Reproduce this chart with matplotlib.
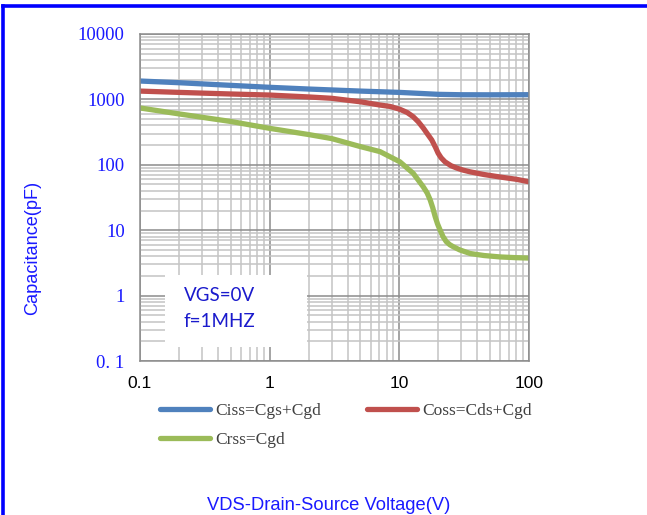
import matplotlib
matplotlib.use("Agg")
import matplotlib.pyplot as plt
from matplotlib.patches import Rectangle
from matplotlib.ticker import LogLocator, NullFormatter, FixedLocator

# Capacitance vs drain-source voltage (VGS = 0 V, f = 1 MHz)
ciss_v = [0.1, 0.2, 0.5, 1, 2, 5, 10, 15, 20, 30, 50, 100]
ciss_c = [1910, 1800, 1640, 1530, 1440, 1340, 1280, 1230, 1195, 1178, 1175, 1180]

coss_v = [0.1, 0.2, 0.5, 1, 2, 3, 5, 7.1, 8.5, 10.1, 11.5, 12.8, 14, 15.3, 16.5,
          17.8, 19, 19.9, 21, 22.5, 25, 27.8, 31, 35.2, 45, 60, 80, 100]
coss_c = [1340, 1280, 1210, 1165, 1090, 1040, 920, 820, 780, 706, 630, 543, 455, 365, 295,
          239, 185, 151, 128, 111, 97, 89, 83, 78, 71, 65, 60, 55]

crss_v = [0.1, 0.2, 0.5, 1, 2, 3, 5, 7.1, 10.1, 12.8, 15.3, 16.4, 17.3, 18.1, 18.9,
          19.7, 20.6, 21.7, 23, 24.5, 26, 29.2, 35.2, 45, 60, 80, 100]
crss_c = [740, 600, 460, 361, 290, 252, 190, 159, 111, 74, 46, 37, 29, 22, 16.1,
          12.5, 10.1, 8.0, 6.7, 6.0, 5.6, 5.0, 4.4, 4.1, 3.9, 3.8, 3.75]

series_labels = ["Ciss=Cgs+Cgd", "Coss=Cds+Cgd", "Crss=Cgd"]
series_colors = ["#4F81BD", "#C0504D", "#9BBB59"]

x_ticks = [0.1, 1, 10, 100]
x_tick_labels = ["0.1", "1", "10", "100"]
y_ticks = [0.1, 1, 10, 100, 1000, 10000]
y_tick_labels = ["0. 1", "1", "10", "100", "1000", "10000"]

BLUE = "#1a1aff"

fig = plt.figure(figsize=(6.47, 5.15), dpi=100)
ax = fig.add_axes([140 / 647, 1 - 361 / 515, 389 / 647, 327 / 515])

ax.set_xscale("log")
ax.set_yscale("log")
ax.set_xlim(0.1, 100)
ax.set_ylim(0.1, 10000)

# grid
ax.xaxis.set_major_locator(FixedLocator(x_ticks))
ax.yaxis.set_major_locator(FixedLocator(y_ticks))
ax.xaxis.set_minor_locator(LogLocator(base=10, subs=range(2, 10)))
ax.yaxis.set_minor_locator(LogLocator(base=10, subs=range(2, 10)))
ax.xaxis.set_minor_formatter(NullFormatter())
ax.yaxis.set_minor_formatter(NullFormatter())
ax.grid(which="major", color="#8c8c8c", linewidth=1.1, zorder=0)
ax.grid(which="minor", color="#c4c4c4", linewidth=1.1, zorder=0)
ax.set_axisbelow(True)
for s in ax.spines.values():
    s.set_color("#8c8c8c")
    s.set_linewidth(1.1)
ax.tick_params(which="both", length=0)

ax.set_xticklabels(x_tick_labels, fontsize=12.5, family="Liberation Sans", color="black")
ax.set_yticklabels(y_tick_labels, fontsize=13.5, family="Liberation Serif", color=BLUE)
ax.tick_params(axis="x", pad=11)
ax.tick_params(axis="y", pad=11)

# condition box
ax.add_patch(Rectangle((0.064, 0.043), 0.365, 0.22, transform=ax.transAxes,
                       facecolor="white", edgecolor="none", zorder=1.5))
ax.text(0.112, 0.2, "VGS=0V", transform=ax.transAxes, fontsize=13.5,
        family="Lato", color="#1a1acc", va="center", zorder=3)
ax.text(0.112, 0.12, "f=1MHZ", transform=ax.transAxes, fontsize=13.5,
        family="Lato", color="#1a1acc", va="center", zorder=3)

lines = []
for v, c, lab, col in zip([ciss_v, coss_v, crss_v], [ciss_c, coss_c, crss_c],
                          series_labels, series_colors):
    ln, = ax.plot(v, c, color=col, linewidth=3.8, label=lab, zorder=2,
                  solid_capstyle="round", solid_joinstyle="round")
    lines.append(ln)

ax.set_ylabel("Capacitance(pF)", fontsize=13.1, family="Liberation Sans", color=BLUE)
ax.yaxis.set_label_coords(-0.254, 0.345)

fig.text(329 / 647, 1 - 505 / 515, "VDS-Drain-Source Voltage(V)", fontsize=13.2,
         family="Liberation Sans", color=BLUE, ha="center", va="center")

leg = fig.legend([lines[0], lines[2], lines[1]],
                 [series_labels[0], series_labels[2], series_labels[1]],
                 ncol=2, frameon=False, loc="upper left",
                 bbox_to_anchor=(160 / 647, 1 - 403 / 515),
                 prop={"family": "Liberation Serif", "size": 12.5},
                 handlelength=2.9, handletextpad=0.3, columnspacing=2.6,
                 labelspacing=0.75, borderaxespad=0, borderpad=0)
for t in leg.get_texts():
    t.set_color("#404040")

# outer frame (top and left edges)
fig.add_artist(plt.Line2D([3 / 647, 1], [1 - 6 / 515, 1 - 6 / 515], transform=fig.transFigure,
                          color="#0000ff", linewidth=2.6))
fig.add_artist(plt.Line2D([3 / 647, 3 / 647], [0, 1 - 6 / 515], transform=fig.transFigure,
                          color="#0000ff", linewidth=2.6))

fig.savefig("out.png", dpi=100)
